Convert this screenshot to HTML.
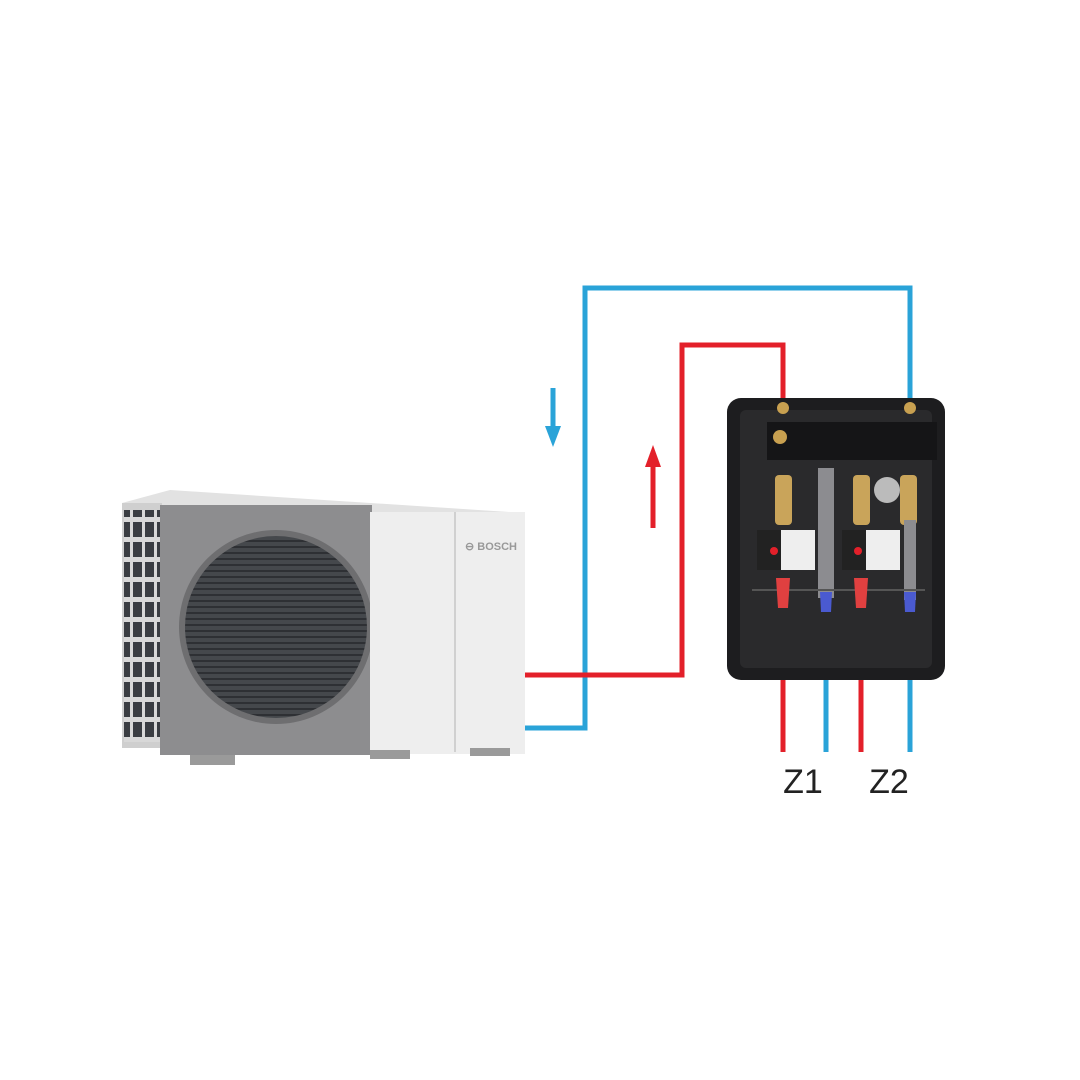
<!DOCTYPE html>
<html><head><style>body{margin:0;background:#fff}svg{display:block}</style></head><body>
<svg width="1080" height="1080" viewBox="0 0 1080 1080" xmlns="http://www.w3.org/2000/svg">
<defs>
<pattern id="g" width="12" height="20" patternUnits="userSpaceOnUse"><rect width="12" height="20" fill="#d8d8d8"/><rect x="1" y="2" width="9" height="15" fill="#3a3d42"/></pattern>
<pattern id="f" width="6" height="6" patternUnits="userSpaceOnUse"><rect width="6" height="6" fill="#45484c"/><rect width="6" height="2" fill="#2e3034"/></pattern>
</defs>
<!-- heat pump -->
<polygon points="122,503 170,490 525,513 525,520 160,505" fill="#e2e2e2"/>
<rect x="122" y="503" width="40" height="245" fill="#cfcfcf"/>
<rect x="124" y="510" width="36" height="232" fill="url(#g)"/>
<rect x="160" y="505" width="212" height="250" fill="#8d8d8f"/>
<circle cx="276" cy="627" r="97" fill="#6e6e70"/>
<circle cx="276" cy="627" r="91" fill="url(#f)"/>
<rect x="370" y="512" width="155" height="242" fill="#eeeeee"/>
<line x1="455" y1="512" x2="455" y2="752" stroke="#d0d0d0" stroke-width="2"/>
<text x="465" y="550" font-family="Liberation Sans,sans-serif" font-size="11" font-weight="bold" fill="#999">⊖ BOSCH</text>
<rect x="190" y="755" width="45" height="10" fill="#9a9a9a"/>
<rect x="370" y="750" width="40" height="9" fill="#9a9a9a"/>
<rect x="470" y="748" width="40" height="8" fill="#9a9a9a"/>
<!-- pipes -->
<g fill="none" stroke-width="5">
<polyline points="525,728 585,728 585,288 910,288 910,405" stroke="#2aa3d8"/>
<polyline points="525,675 682,675 682,345 783,345 783,405" stroke="#e3202a"/>
<line x1="783" y1="615" x2="783" y2="752" stroke="#e3202a"/>
<line x1="861" y1="615" x2="861" y2="752" stroke="#e3202a"/>
<line x1="826" y1="615" x2="826" y2="752" stroke="#2aa3d8"/>
<line x1="910" y1="615" x2="910" y2="752" stroke="#2aa3d8"/>
</g>
<!-- arrows -->
<line x1="553" y1="388" x2="553" y2="428" stroke="#2aa3d8" stroke-width="5"/>
<polygon points="545,426 561,426 553,447" fill="#2aa3d8"/>
<line x1="653" y1="528" x2="653" y2="465" stroke="#e3202a" stroke-width="5"/>
<polygon points="645,467 661,467 653,445" fill="#e3202a"/>
<!-- station box -->
<rect x="727" y="398" width="218" height="282" rx="14" fill="#1d1d1f"/>
<rect x="740" y="410" width="192" height="258" rx="6" fill="#2a2a2c"/>
<rect x="767" y="422" width="170" height="38" fill="#151517"/>
<circle cx="780" cy="437" r="7" fill="#c8a050"/>
<circle cx="783" cy="408" r="6" fill="#c8a050"/>
<circle cx="910" cy="408" r="6" fill="#c8a050"/>
<rect x="775" y="475" width="17" height="50" rx="4" fill="#c9a45a"/>
<rect x="853" y="475" width="17" height="50" rx="4" fill="#c9a45a"/>
<rect x="900" y="475" width="17" height="50" rx="4" fill="#c9a45a"/>
<circle cx="887" cy="490" r="13" fill="#bbb"/>
<rect x="818" y="468" width="16" height="130" fill="#8c8c90"/>
<rect x="904" y="520" width="12" height="80" fill="#8c8c90"/>
<rect x="757" y="530" width="58" height="40" fill="#eee"/>
<rect x="757" y="530" width="24" height="40" fill="#222"/>
<circle cx="774" cy="551" r="4" fill="#e3202a"/>
<rect x="842" y="530" width="58" height="40" fill="#eee"/>
<rect x="842" y="530" width="24" height="40" fill="#222"/>
<circle cx="858" cy="551" r="4" fill="#e3202a"/>
<line x1="752" y1="590" x2="925" y2="590" stroke="#555" stroke-width="2"/>
<path d="M776,578 h14 l-2,30 h-10z" fill="#e04040"/>
<path d="M854,578 h14 l-2,30 h-10z" fill="#e04040"/>
<path d="M820,592 h12 l-1,20 h-10z" fill="#4a5ad0"/>
<path d="M904,592 h12 l-1,20 h-10z" fill="#4a5ad0"/>
<!-- labels -->
<text x="803" y="793" text-anchor="middle" font-family="Liberation Sans,sans-serif" font-size="34" fill="#222">Z1</text>
<text x="889" y="793" text-anchor="middle" font-family="Liberation Sans,sans-serif" font-size="34" fill="#222">Z2</text>
</svg>
</body></html>
